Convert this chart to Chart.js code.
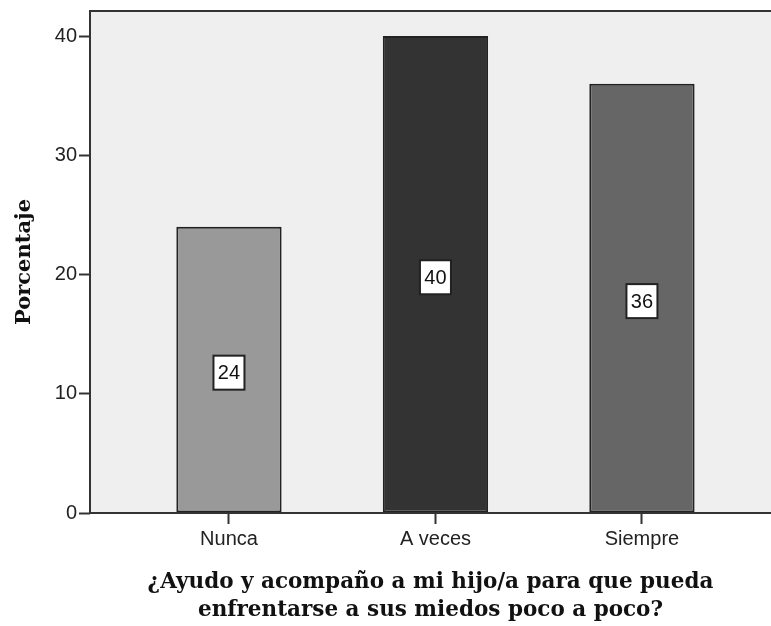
<!DOCTYPE html>
<html>
<head>
<meta charset="utf-8">
<script src="https://cdn.jsdelivr.net/npm/chart.js@4"></script>
<style>
  html, body { margin: 0; padding: 0; background: #fff; overflow: hidden; }
  #wrap { width: 771px; height: 626px; }
</style>
</head>
<body>
<div id="wrap"><canvas id="barChart" width="771" height="626"></canvas></div>
<script>
// datos
const categories = ['Nunca', 'A veces', 'Siempre'];
const percents = [24, 40, 36];
const barColors = ['#999999', '#333333', '#666666'];
const yTicks = [0, 10, 20, 30, 40];
const xTitle = ['¿Ayudo y acompaño a mi hijo/a para que pueda', 'enfrentarse a sus miedos poco a poco?'];
const yTitle = 'Porcentaje';

const axisColor = '#333333';

// fondo gris y marco del area del grafico
const plotFrame = {
    id: 'plotFrame',
    beforeDraw(chart) {
        const { ctx, chartArea: a } = chart;
        ctx.save();
        ctx.fillStyle = '#efefef';
        ctx.fillRect(a.left, a.top, a.right - a.left, a.bottom - a.top);
        ctx.restore();
    },
    afterDatasetsDraw(chart) {
        const { ctx, chartArea: a } = chart;
        ctx.save();
        ctx.strokeStyle = axisColor;
        ctx.lineWidth = 2;
        ctx.beginPath();
        ctx.moveTo(a.left, a.bottom);
        ctx.lineTo(a.left, a.top);
        ctx.lineTo(a.right, a.top);
        ctx.moveTo(a.left, a.bottom);
        ctx.lineTo(a.right, a.bottom);
        ctx.stroke();
        ctx.restore();
    }
};

// etiquetas de valor en cajas blancas
const valueBoxes = {
    id: 'valueBoxes',
    afterDatasetsDraw(chart) {
        const { ctx } = chart;
        const meta = chart.getDatasetMeta(0);
        ctx.save();
        ctx.font = '20px "Liberation Sans", Arial, sans-serif';
        ctx.textAlign = 'center';
        ctx.textBaseline = 'middle';
        meta.data.forEach((bar, i) => {
            const { x, y, base } = bar.getProps(['x', 'y', 'base'], true);
            const cy = (y + base) / 2 + 3;
            const w = 31, h = 34;
            ctx.fillStyle = '#ffffff';
            ctx.fillRect(x - w / 2, cy - h / 2, w, h);
            ctx.strokeStyle = '#222222';
            ctx.lineWidth = 2;
            ctx.strokeRect(x - w / 2, cy - h / 2, w, h);
            ctx.fillStyle = '#111111';
            ctx.fillText(String(percents[i]), x, cy + 1);
        });
        ctx.restore();
    }
};

const ctx = document.getElementById('barChart').getContext('2d');
const chart = new Chart(ctx, {
    type: 'bar',
    data: {
        datasets: [{
            data: percents.map((v, i) => ({ x: i, y: v })),
            backgroundColor: barColors,
            borderColor: '#222222',
            borderWidth: 2,
            borderSkipped: false,
            barPercentage: 1,
            categoryPercentage: 0.51
        }]
    },
    options: {
        responsive: false,
        animation: false,
        layout: { padding: { top: 11, right: 0, left: 0, bottom: 0 } },
        plugins: {
            legend: { display: false },
            tooltip: { enabled: false }
        },
        scales: {
            x: {
                type: 'linear',
                offset: false,
                min: -0.673,
                max: 2.625,
                afterBuildTicks: axis => { axis.ticks = categories.map((c, i) => ({ value: i })); },
                afterFit: axis => { axis.height = 113; },
                border: { display: false },
                grid: {
                    offset: false,
                    drawOnChartArea: false,
                    drawTicks: true,
                    tickLength: 11,
                    tickWidth: 2,
                    color: axisColor
                },
                ticks: {
                    padding: 3,
                    color: '#222222',
                    font: { family: '"Liberation Sans", Arial, sans-serif', size: 20 },
                    callback: v => categories[v] ?? ''
                },
                title: {
                    display: true,
                    text: xTitle,
                    color: '#111111',
                    padding: { top: 0, bottom: 2 },
                    font: { family: '"DejaVu Serif", serif', size: 21.5, weight: 'bold', lineHeight: 1.28 }
                }
            },
            y: {
                min: 0,
                max: 42.1,
                afterBuildTicks: axis => { axis.ticks = yTicks.map(v => ({ value: v })); },
                afterFit: axis => { axis.width = 90; },
                border: { display: false },
                grid: {
                    drawOnChartArea: false,
                    drawTicks: true,
                    tickLength: 11,
                    tickWidth: 2,
                    color: axisColor
                },
                ticks: {
                    padding: 2,
                    color: '#222222',
                    font: { family: '"Liberation Sans", Arial, sans-serif', size: 20, lineHeight: 0.9 }
                },
                title: {
                    display: true,
                    text: yTitle,
                    color: '#111111',
                    padding: { top: 12, bottom: 0 },
                    font: { family: '"DejaVu Serif", serif', size: 21, weight: 'bold', lineHeight: 1.2 }
                }
            }
        }
    },
    plugins: [plotFrame, valueBoxes]
});
</script>
</body>
</html>
